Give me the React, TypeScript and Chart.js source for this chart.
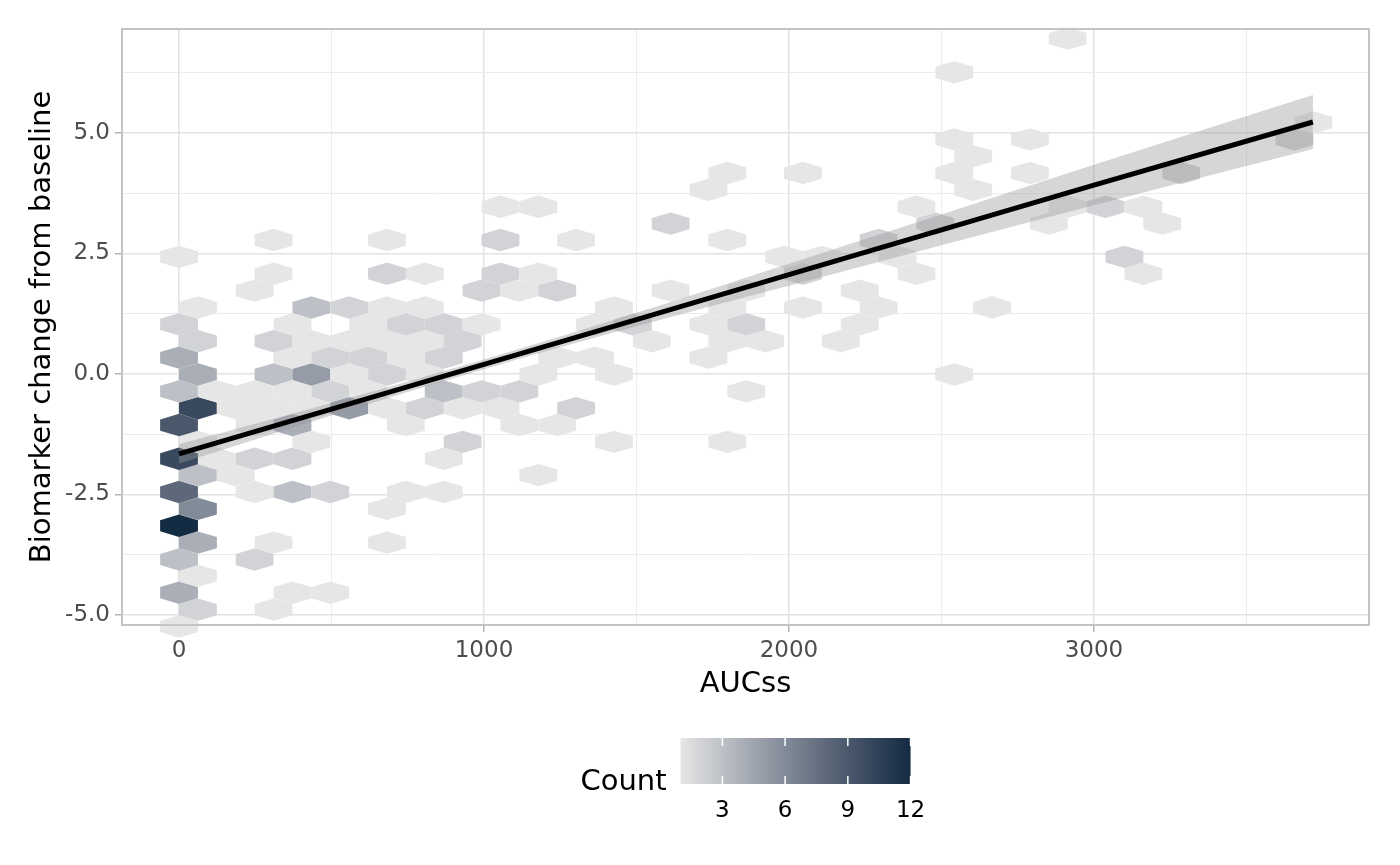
import React, { useEffect, useRef } from 'react';
import { Chart, registerables } from 'chart.js';

Chart.register(...registerables);

// Hexbin centres (AUCss, biomarker change) and their counts
const hexX = [
  0,
  62, 310,
  0, 372, 496,
  62,
  0, 248,
  62, 310, 682,
  0,
  62, 682,
  0, 248, 372, 496, 744, 868,
  62, 186, 1178,
  0, 124, 248, 372, 868,
  62, 434, 930, 1426, 1798,
  0, 248, 372, 744, 1116, 1240,
  62, 186, 310, 434, 558, 682, 806, 930, 1054, 1302,
  0, 124, 248, 372, 496, 620, 868, 992, 1116, 1860,
  62, 310, 434, 558, 682, 806, 1178, 1426, 2542,
  0, 372, 496, 620, 744, 868, 1240, 1364, 1736,
  62, 310, 434, 558, 682, 806, 930, 1550, 1798, 1922, 2170,
  0, 372, 620, 744, 868, 992, 1364, 1488, 1736, 1860, 2232,
  62, 434, 558, 682, 806, 1426, 1798, 2046, 2294, 2666,
  248, 992, 1116, 1240, 1612, 1860, 2232,
  310, 682, 806, 1054, 1178, 2046, 2418, 3162,
  0, 1984, 2108, 2356, 3100,
  310, 682, 1054, 1302, 1798, 2294,
  1612, 2480, 2852, 3224,
  1054, 1178, 2418, 2914, 3038, 3162,
  1736, 2604,
  1798, 2046, 2542, 2790, 3286,
  2604,
  2542, 2790, 3658,
  3720,
  2542,
  2914,
];

const hexY = [
  -5.24,
  -4.89, -4.89,
  -4.54, -4.54, -4.54,
  -4.19,
  -3.85, -3.85,
  -3.5, -3.5, -3.5,
  -3.15,
  -2.8, -2.8,
  -2.45, -2.45, -2.45, -2.45, -2.45, -2.45,
  -2.1, -2.1, -2.1,
  -1.76, -1.76, -1.76, -1.76, -1.76,
  -1.41, -1.41, -1.41, -1.41, -1.41,
  -1.06, -1.06, -1.06, -1.06, -1.06, -1.06,
  -0.71, -0.71, -0.71, -0.71, -0.71, -0.71, -0.71, -0.71, -0.71, -0.71,
  -0.36, -0.36, -0.36, -0.36, -0.36, -0.36, -0.36, -0.36, -0.36, -0.36,
  -0.01, -0.01, -0.01, -0.01, -0.01, -0.01, -0.01, -0.01, -0.01,
  0.34, 0.34, 0.34, 0.34, 0.34, 0.34, 0.34, 0.34, 0.34,
  0.68, 0.68, 0.68, 0.68, 0.68, 0.68, 0.68, 0.68, 0.68, 0.68, 0.68,
  1.03, 1.03, 1.03, 1.03, 1.03, 1.03, 1.03, 1.03, 1.03, 1.03, 1.03,
  1.38, 1.38, 1.38, 1.38, 1.38, 1.38, 1.38, 1.38, 1.38, 1.38,
  1.73, 1.73, 1.73, 1.73, 1.73, 1.73, 1.73,
  2.08, 2.08, 2.08, 2.08, 2.08, 2.08, 2.08, 2.08,
  2.43, 2.43, 2.43, 2.43, 2.43,
  2.78, 2.78, 2.78, 2.78, 2.78, 2.78,
  3.12, 3.12, 3.12, 3.12,
  3.47, 3.47, 3.47, 3.47, 3.47, 3.47,
  3.82, 3.82,
  4.17, 4.17, 4.17, 4.17, 4.17,
  4.52,
  4.87, 4.87, 4.87,
  5.22,
  6.26,
  6.96,
];

const hexCount = [
  1,
  2, 1,
  4, 1, 1,
  1,
  3, 2,
  4, 1, 1,
  12,
  6, 1,
  8, 1, 3, 2, 1, 1,
  3, 1, 1,
  10, 1, 2, 2, 1,
  1, 1, 2, 1, 1,
  9, 1, 4, 1, 1, 1,
  10, 1, 1, 1, 5, 1, 2, 1, 1, 2,
  3, 1, 1, 1, 2, 1, 3, 2, 2, 1,
  4, 3, 5, 1, 2, 1, 1, 1, 1,
  4, 1, 2, 2, 1, 2, 1, 1, 1,
  2, 2, 1, 1, 1, 1, 2, 1, 1, 1, 1,
  2, 1, 1, 2, 2, 1, 1, 2, 1, 2, 1,
  1, 3, 2, 1, 1, 1, 1, 1, 1, 1,
  1, 2, 1, 2, 1, 1, 1,
  1, 2, 1, 2, 1, 2, 1, 1,
  1, 1, 1, 1, 2,
  1, 1, 2, 1, 1, 2,
  2, 2, 1, 1,
  1, 1, 1, 1, 2, 1,
  1, 1,
  1, 1, 1, 1, 2,
  1,
  1, 1, 2,
  1,
  1,
  1,
];

// Linear fit with its confidence band
const fitX = [0, 500, 1000, 1500, 2000, 2500, 3000, 3718];
const fitY = [-1.66, -0.73, 0.2, 1.13, 2.06, 2.99, 3.92, 5.23];
const fitLower = [-1.86, -0.86, 0.1, 0.99, 1.83, 2.67, 3.5, 4.67];
const fitUpper = [-1.46, -0.6, 0.3, 1.27, 2.29, 3.31, 4.34, 5.79];

// Axis breaks
const xMajorTicks = [0, 1000, 2000, 3000];
const xMinorTicks = [500, 1500, 2500, 3500];
const yMajorTicks = [-5, -2.5, 0, 2.5, 5];
const yMinorTicks = [-3.75, -1.25, 1.25, 3.75, 6.25];

// Legend breaks
const countTicks = [3, 6, 9, 12];
const countMin = 1;
const countMax = 12;

const HEX_HALF_W = 62; // half bin width in AUCss units
const HEX_RADIUS = 0.2323; // vertex radius in y units

const FONT = "'DejaVu Sans', 'Liberation Sans', sans-serif";

// --- colour ramp in CIELAB, like scale_fill_gradient ---
const LOW = '#e6e6e6';
const HIGH = '#132b43';

function toLab(hex: string): number[] {
  const v = [1, 3, 5].map(i => parseInt(hex.slice(i, i + 2), 16) / 255)
    .map(c => (c <= 0.04045 ? c / 12.92 : Math.pow((c + 0.055) / 1.055, 2.4)));
  const [r, g, b] = v;
  const X = (0.4124 * r + 0.3576 * g + 0.1805 * b) / 0.95047;
  const Y = 0.2126 * r + 0.7152 * g + 0.0722 * b;
  const Z = (0.0193 * r + 0.1192 * g + 0.9505 * b) / 1.08883;
  const f = (t: number) => (t > 0.008856 ? Math.cbrt(t) : 7.787 * t + 16 / 116);
  const fx = f(X), fy = f(Y), fz = f(Z);
  return [116 * fy - 16, 500 * (fx - fy), 200 * (fy - fz)];
}

function fromLab(lab: number[]): string {
  const [L, a, bb] = lab;
  const fy = (L + 16) / 116;
  const fx = fy + a / 500;
  const fz = fy - bb / 200;
  const inv = (t: number) => (t * t * t > 0.008856 ? t * t * t : (t - 16 / 116) / 7.787);
  const X = inv(fx) * 0.95047, Y = inv(fy), Z = inv(fz) * 1.08883;
  const lin = [
    3.2406 * X - 1.5372 * Y - 0.4986 * Z,
    -0.9689 * X + 1.8758 * Y + 0.0415 * Z,
    0.0557 * X - 0.204 * Y + 1.057 * Z,
  ];
  const out = lin.map(c => {
    const s = c <= 0.0031308 ? 12.92 * c : 1.055 * Math.pow(c, 1 / 2.4) - 0.055;
    return Math.round(Math.min(1, Math.max(0, s)) * 255);
  });
  return `rgb(${out[0]}, ${out[1]}, ${out[2]})`;
}

const lowLab = toLab(LOW);
const highLab = toLab(HIGH);

function countColor(c: number): string {
  const t = Math.min(1, Math.max(0, (c - countMin) / (countMax - countMin)));
  return fromLab(lowLab.map((v, i) => v + (highLab[i] - v) * t));
}

// Hexagons go underneath the smoother
const hexPlugin = {
  id: 'hexbins',
  beforeDatasetsDraw(chart: any) {
    const { ctx, scales } = chart;
    const xs = scales.x, ys = scales.y;
    const w = Math.abs(xs.getPixelForValue(HEX_HALF_W) - xs.getPixelForValue(0));
    const r = Math.abs(ys.getPixelForValue(HEX_RADIUS) - ys.getPixelForValue(0));
    ctx.save();
    hexX.forEach((hx, i) => {
      const cx = xs.getPixelForValue(hx);
      const cy = ys.getPixelForValue(hexY[i]);
      ctx.beginPath();
      ctx.moveTo(cx, cy - r);
      ctx.lineTo(cx + w, cy - r / 2);
      ctx.lineTo(cx + w, cy + r / 2);
      ctx.lineTo(cx, cy + r);
      ctx.lineTo(cx - w, cy + r / 2);
      ctx.lineTo(cx - w, cy - r / 2);
      ctx.closePath();
      ctx.fillStyle = countColor(hexCount[i]);
      ctx.fill();
    });
    ctx.restore();
  },
};

// Panel border, axis titles and the colourbar legend
const decorPlugin = {
  id: 'decor',
  afterDatasetsDraw(chart: any) {
    const { ctx, chartArea } = chart;
    ctx.save();
    ctx.strokeStyle = '#c4c4c4';
    ctx.lineWidth = 2;
    ctx.strokeRect(chartArea.left, chartArea.top, chartArea.right - chartArea.left, chartArea.bottom - chartArea.top);
    ctx.restore();
  },
  afterDraw(chart: any) {
    const { ctx, chartArea } = chart;
    const midX = (chartArea.left + chartArea.right) / 2;
    const midY = (chartArea.top + chartArea.bottom) / 2;
    ctx.save();
    ctx.fillStyle = '#000';
    ctx.font = `29px ${FONT}`;
    ctx.textAlign = 'center';
    ctx.textBaseline = 'alphabetic';
    ctx.fillText('AUCss', midX, chartArea.bottom + 67);

    ctx.save();
    ctx.translate(50, midY);
    ctx.rotate(-Math.PI / 2);
    ctx.fillText('Biomarker change from baseline', 0, 0);
    ctx.restore();

    // colourbar
    const barW = 230, barH = 46, gap = 14;
    ctx.font = `29px ${FONT}`;
    const titleW = ctx.measureText('Count').width;
    const startX = midX - (titleW + gap + barW) / 2;
    const barX = startX + titleW + gap;
    const barY = chartArea.bottom + 113;
    ctx.textAlign = 'left';
    ctx.fillText('Count', startX, barY + 52);

    const grad = ctx.createLinearGradient(barX, 0, barX + barW, 0);
    for (let k = 0; k <= 40; k++) {
      const c = countMin + ((countMax - countMin) * k) / 40;
      grad.addColorStop(k / 40, countColor(c));
    }
    ctx.fillStyle = grad;
    ctx.fillRect(barX, barY, barW, barH);

    ctx.strokeStyle = '#fff';
    ctx.lineWidth = 1.5;
    ctx.fillStyle = '#000';
    ctx.font = `23px ${FONT}`;
    ctx.textAlign = 'center';
    countTicks.forEach(t => {
      const px = barX + ((t - countMin) / (countMax - countMin)) * barW;
      ctx.beginPath();
      ctx.moveTo(px, barY);
      ctx.lineTo(px, barY + 8);
      ctx.moveTo(px, barY + barH - 8);
      ctx.lineTo(px, barY + barH);
      ctx.stroke();
      ctx.fillText(String(t), px, barY + 79);
    });
    ctx.restore();
  },
};

const isIn = (arr: number[], v: number) => arr.some(a => Math.abs(a - v) < 1e-6);

const App: React.FC = () => {
  const canvasRef = useRef<HTMLCanvasElement>(null);

  useEffect(() => {
    if (!canvasRef.current) return;

    // Chart.js paints datasets from the last to the first,
    // so the fit line sits at index 0 to end up on top of the band.
    const chart = new Chart(canvasRef.current, {
      type: 'line',
      data: {
        datasets: [
          {
            label: 'fit',
            data: fitX.map((x, i) => ({ x, y: fitY[i] })),
            borderColor: '#000',
            borderWidth: 5,
            borderCapStyle: 'butt',
            pointRadius: 0,
            fill: false,
            tension: 0,
          },
          {
            label: 'upper',
            data: fitX.map((x, i) => ({ x, y: fitUpper[i] })),
            borderWidth: 0,
            pointRadius: 0,
            fill: '+1',
            backgroundColor: 'rgba(153, 153, 153, 0.4)',
            cubicInterpolationMode: 'monotone',
          },
          {
            label: 'lower',
            data: fitX.map((x, i) => ({ x, y: fitLower[i] })),
            borderWidth: 0,
            pointRadius: 0,
            fill: false,
            cubicInterpolationMode: 'monotone',
          },
        ],
      },
      options: {
        responsive: false,
        animation: false,
        layout: { padding: { top: 29, right: 31, left: 0, bottom: 0 } },
        plugins: {
          legend: { display: false },
          tooltip: { enabled: false },
          filler: { propagate: false },
        },
        scales: {
          x: {
            type: 'linear',
            min: -187,
            max: 3902,
            afterBuildTicks: (s: any) => {
              s.ticks = [...xMajorTicks, ...xMinorTicks].sort((a, b) => a - b).map(v => ({ value: v }));
            },
            afterFit: (s: any) => { s.height = 240; },
            border: { display: false },
            grid: {
              color: (c: any) => (isIn(xMajorTicks, c.tick?.value) ? '#e2e2e2' : '#ececec'),
              lineWidth: (c: any) => (isIn(xMajorTicks, c.tick?.value) ? 1.5 : 1),
              tickColor: (c: any) => (isIn(xMajorTicks, c.tick?.value) ? '#b3b3b3' : 'rgba(0,0,0,0)'),
              tickLength: 7,
              tickWidth: 1.5,
            },
            ticks: {
              autoSkip: false,
              maxRotation: 0,
              padding: 5,
              color: '#4d4d4d',
              font: { family: FONT, size: 23 },
              callback: (v: any) => (isIn(xMajorTicks, Number(v)) ? String(v) : ''),
            },
          },
          y: {
            type: 'linear',
            min: -5.21,
            max: 7.16,
            afterBuildTicks: (s: any) => {
              s.ticks = [...yMajorTicks, ...yMinorTicks].sort((a, b) => a - b).map(v => ({ value: v }));
            },
            afterFit: (s: any) => { s.width = 122; },
            border: { display: false },
            grid: {
              color: (c: any) => (isIn(yMajorTicks, c.tick?.value) ? '#e2e2e2' : '#ececec'),
              lineWidth: (c: any) => (isIn(yMajorTicks, c.tick?.value) ? 1.5 : 1),
              tickColor: (c: any) => (isIn(yMajorTicks, c.tick?.value) ? '#b3b3b3' : 'rgba(0,0,0,0)'),
              tickLength: 7,
              tickWidth: 1.5,
            },
            ticks: {
              autoSkip: false,
              padding: 5,
              color: '#4d4d4d',
              font: { family: FONT, size: 23 },
              callback: (v: any) => (isIn(yMajorTicks, Number(v)) ? Number(v).toFixed(1) : ''),
            },
          },
        },
      } as any,
      plugins: [hexPlugin, decorPlugin],
    });

    return () => {
      chart.destroy();
    };
  }, []);

  return (
    <div style={{ position: 'fixed', left: 0, top: 0, width: 1400, height: 865, background: '#fff' }}>
      <canvas ref={canvasRef} width={1400} height={865}></canvas>
    </div>
  );
};

export default App;
